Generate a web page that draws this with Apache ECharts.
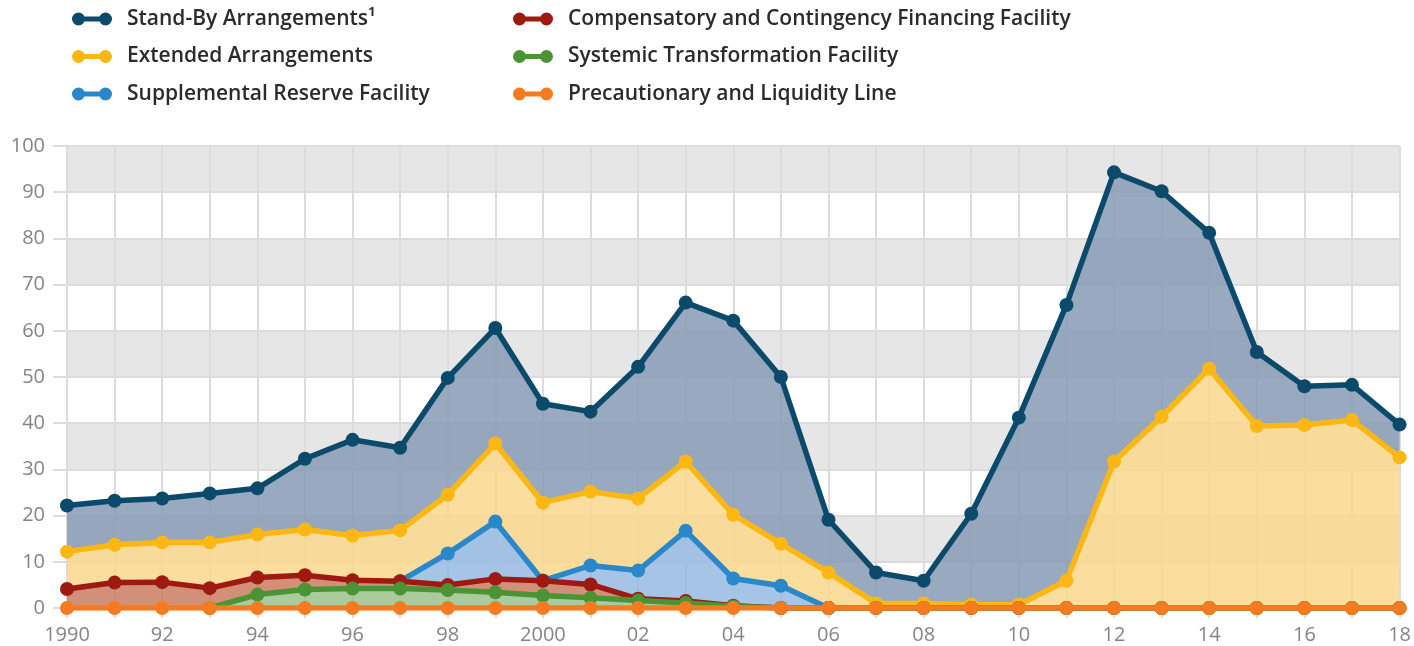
<!DOCTYPE html>
<html>
<head>
<meta charset="utf-8">
<script src="https://cdn.jsdelivr.net/npm/echarts@6/dist/echarts.min.js"></script>
<style>
  html, body { margin: 0; padding: 0; background: #ffffff; }
  #chart { width: 1414px; height: 646px; }
</style>
</head>
<body>
<div id="chart"></div>
<script>
// ---- Data (SDR billions, outstanding credit by facility; stacked) ----
const years = ['1990','1991','1992','1993','1994','1995','1996','1997','1998','1999',
               '2000','2001','2002','2003','2004','2005','2006','2007','2008','2009',
               '2010','2011','2012','2013','2014','2015','2016','2017','2018'];
const xTickLabels = ['1990','','92','','94','','96','','98','',
                     '2000','','02','','04','','06','','08','',
                     '10','','12','','14','','16','','18'];
const yTicks = [0, 10, 20, 30, 40, 50, 60, 70, 80, 90, 100];

const standBy = [10.0, 9.5, 9.5, 10.6, 10.0, 15.3, 20.7, 17.9, 25.3, 25.0,
                 21.4, 17.3, 28.5, 34.4, 42.0, 36.1, 11.4, 6.7, 4.9, 19.7,
                 40.5, 59.7, 62.6, 48.8, 29.4, 16.0, 8.4, 7.6, 7.1];
const extended = [8.1, 8.2, 8.6, 9.9, 9.3, 9.9, 9.7, 11.0, 12.7, 16.9,
                  16.9, 16.0, 15.6, 15.0, 13.8, 9.1, 7.7, 1.0, 1.0, 0.7,
                  0.7, 5.9, 31.7, 41.4, 51.8, 39.4, 39.6, 40.7, 32.6];
const supplementalReserve = [null, null, null, null, null, null, null, 0, 6.8, 12.4,
                             0, 4.1, 6.1, 15.2, 5.9, 4.8, 0, null, null, null,
                             null, null, null, null, null, null, null, null, null];
const compensatory = [4.1, 5.5, 5.6, 4.3, 3.7, 3.1, 1.8, 1.6, 1.1, 2.9,
                      3.2, 2.9, 0.4, 0.4, 0.1, 0, 0, 0, 0, 0,
                      0, 0, 0, 0, 0, 0, 0, 0, 0];
const systemicTransformation = [null, null, null, 0, 2.9, 4.0, 4.2, 4.2, 3.9, 3.4,
                                2.7, 2.2, 1.6, 1.1, 0.4, 0, 0, 0, 0, 0,
                                0, 0, 0, 0, 0, 0, 0, 0, 0];
const precautionary = [0, 0, 0, 0, 0, 0, 0, 0, 0, 0,
                       0, 0, 0, 0, 0, 0, 0, 0, 0, 0,
                       0, 0, 0, 0, 0, 0, 0, 0, 0];

const names = {
  sb: 'Stand-By Arrangements\u00B9',
  ea: 'Extended Arrangements',
  srf: 'Supplemental Reserve Facility',
  ccff: 'Compensatory and Contingency Financing Facility',
  stf: 'Systemic Transformation Facility',
  pll: 'Precautionary and Liquidity Line'
};

const colors = {
  sb:   { line: '#0b4a6b', area: 'rgba(136,156,182,0.86)' },
  ea:   { line: '#fdb714', area: 'rgba(250,215,141,0.86)' },
  srf:  { line: '#2a87c9', area: 'rgba(151,186,226,0.86)' },
  ccff: { line: '#9e1a10', area: 'rgba(204,126,99,0.86)' },
  stf:  { line: '#4a9436', area: 'rgba(156,194,139,0.86)' },
  pll:  { line: '#f47b20', area: 'rgba(244,123,32,0.5)' }
};

const iconPath = 'path://M0,6.5A6.5,6.5,0,1,1,13,6.5A6.5,6.5,0,1,1,0,6.5ZM27,6.5A6.5,6.5,0,1,1,40,6.5A6.5,6.5,0,1,1,27,6.5ZM6,4H34V9H6Z';

function mk(key, data, z) {
  return {
    name: names[key],
    type: 'line',
    stack: 'total',
    data: data,
    z: z,
    symbol: 'circle',
    symbolSize: 14,
    showSymbol: true,
    connectNulls: false,
    lineStyle: { color: colors[key].line, width: 5.5 },
    itemStyle: { color: colors[key].line },
    areaStyle: { color: colors[key].area, opacity: 1 },
    emphasis: { disabled: true },
    animation: false
  };
}

const legendText = {
  color: '#2b2b2b',
  fontSize: 21,
  fontWeight: 600,
  fontFamily: 'Open Sans',
  lineHeight: 22,
  padding: [0, 0, 0, 10]
};

const axisFont = { color: '#858585', fontSize: 20, fontFamily: 'Open Sans' };

const chart = echarts.init(document.getElementById('chart'), null, { renderer: 'canvas' });
chart.setOption({
  animation: false,
  backgroundColor: '#ffffff',
  legend: [
    {
      orient: 'vertical', left: 72, top: 8, itemGap: 15.5, padding: 0,
      itemWidth: 40, itemHeight: 13, icon: iconPath,
      selectedMode: false,
      textStyle: legendText,
      data: [names.sb, names.ea, names.srf]
    },
    {
      orient: 'vertical', left: 513, top: 8, itemGap: 15.5, padding: 0,
      itemWidth: 40, itemHeight: 13, icon: iconPath,
      selectedMode: false,
      textStyle: legendText,
      data: [names.ccff, names.stf, names.pll]
    }
  ],
  grid: { left: 67, right: 11, top: 146, bottom: 38, containLabel: false },
  xAxis: {
    type: 'category',
    data: years,
    boundaryGap: false,
    axisLine: { show: true, lineStyle: { color: '#dcdcdc', width: 2 } },
    axisTick: { show: true, interval: 0, length: 10, lineStyle: { color: '#dcdcdc', width: 2 } },
    axisLabel: Object.assign({
      interval: 0,
      margin: 17,
      formatter: function (v, i) { return xTickLabels[i]; }
    }, axisFont),
    splitLine: { show: true, interval: 0, lineStyle: { color: '#dcdcdc', width: 2 } }
  },
  yAxis: {
    type: 'value',
    min: yTicks[0],
    max: yTicks[yTicks.length - 1],
    interval: 10,
    axisLine: { show: false },
    axisTick: { show: true, length: 14, lineStyle: { color: '#dcdcdc', width: 2 } },
    axisLabel: Object.assign({ margin: 22 }, axisFont),
    splitLine: { show: true, lineStyle: { color: '#dcdcdc', width: 2 } },
    splitArea: { show: true, areaStyle: { color: ['#ffffff', '#e6e6e6'] } }
  },
  series: [
    mk('pll', precautionary, 8),
    mk('stf', systemicTransformation, 7),
    mk('ccff', compensatory, 6),
    mk('srf', supplementalReserve, 5),
    mk('ea', extended, 4),
    mk('sb', standBy, 3)
  ]
});
</script>
</body>
</html>
